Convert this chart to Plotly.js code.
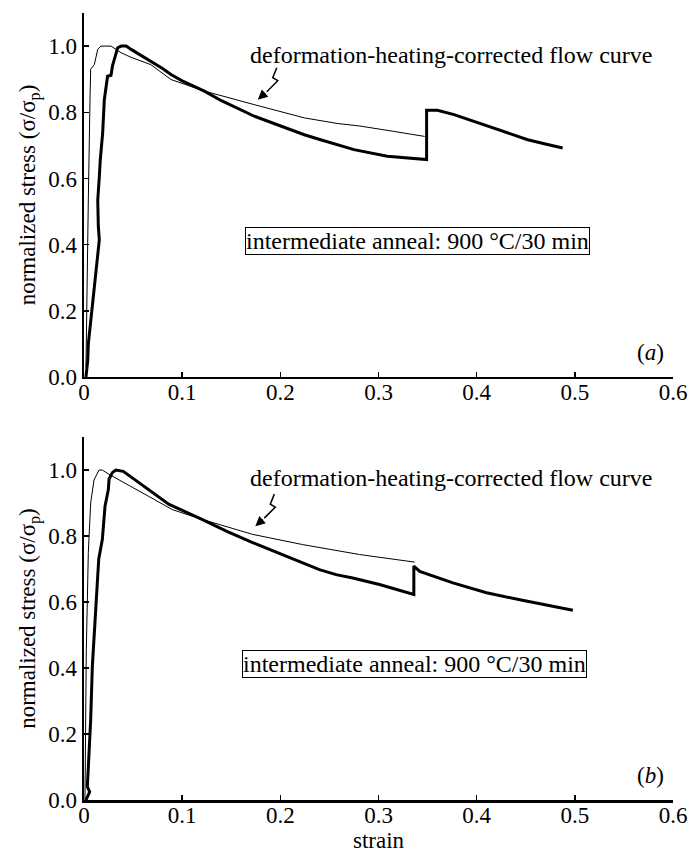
<!DOCTYPE html>
<html><head><meta charset="utf-8">
<script src="https://cdn.plot.ly/plotly-3.0.1.min.js"></script>
<style>body{margin:0;background:#fff}#plot{width:693px;height:855px}</style>
</head><body><div id="plot"></div>
<script>
// (a) measured flow curve (thick)
const aMeasStrain = [0.002,0.0038,0.0044,0.0071,0.0105,0.0132,0.0156,0.0146,0.014,0.0155,0.0166,0.019,0.0207,0.024,0.0275,0.029,0.031,0.0343,0.038,0.043,0.048,0.058,0.068,0.080,0.0886,0.100,0.1226,0.14,0.1735,0.20,0.2244,0.241,0.2584,0.275,0.309,0.330,0.349,0.349,0.360,0.377,0.395,0.411,0.430,0.452,0.470,0.4876];
const aMeasStress = [0.0,0.05,0.10,0.18,0.283,0.354,0.414,0.455,0.535,0.60,0.657,0.737,0.838,0.909,0.912,0.94,0.96,0.995,1.0,1.0,0.99,0.972,0.955,0.932,0.914,0.895,0.864,0.835,0.788,0.758,0.732,0.717,0.702,0.687,0.667,0.662,0.657,0.806,0.806,0.793,0.775,0.758,0.738,0.717,0.704,0.692];
// (a) deformation-heating-corrected flow curve (thin)
const aCorrStrain = [0.002,0.0027,0.0044,0.0061,0.0068,0.0105,0.014,0.0173,0.0275,0.0326,0.0377,0.048,0.068,0.0886,0.1226,0.1735,0.2244,0.2584,0.282,0.316,0.347];
const aCorrStress = [0.03,0.232,0.535,0.838,0.93,0.944,0.99,1.0,1.0,0.99,0.98,0.966,0.944,0.899,0.864,0.823,0.783,0.766,0.758,0.742,0.727];
// (b) measured flow curve (thick)
const bMeasStrain = [0.002,0.0058,0.0034,0.0068,0.0085,0.0112,0.0146,0.0150,0.0187,0.0214,0.0248,0.0255,0.0289,0.0323,0.040,0.050,0.066,0.0867,0.1207,0.145,0.1718,0.20,0.2228,0.2398,0.2568,0.2738,0.301,0.320,0.336,0.336,0.342,0.3758,0.41,0.444,0.471,0.485,0.498];
const bMeasStress = [0.0,0.025,0.04,0.243,0.405,0.547,0.709,0.73,0.79,0.89,0.941,0.972,0.992,1.0,0.996,0.975,0.941,0.896,0.850,0.815,0.78,0.745,0.719,0.698,0.683,0.673,0.653,0.638,0.623,0.709,0.693,0.658,0.628,0.607,0.592,0.583,0.575];
// (b) deformation-heating-corrected flow curve (thin)
const bCorrStrain = [0.001,0.0015,0.0023,0.0044,0.0068,0.0102,0.0153,0.0187,0.0255,0.066,0.09,0.1207,0.1718,0.2228,0.2568,0.2806,0.3367];
const bCorrStress = [0.0,0.2,0.446,0.75,0.90,0.97,1.0,1.0,0.987,0.92,0.88,0.850,0.805,0.774,0.757,0.744,0.721];

const xTickVals = [0,0.1,0.2,0.3,0.4,0.5,0.6];
const xTickText = ['0','0.1','0.2','0.3','0.4','0.5','0.6'];
const yTickVals = [0,0.2,0.4,0.6,0.8,1.0];
const yTickText = ['0.0','0.2','0.4','0.6','0.8','1.0'];

const FONT = 'Liberation Serif, Times New Roman, serif';
const thick = {color:'#000', width:3};
const thin = {color:'#000', width:1};

const traces = [
  {x:aMeasStrain, y:aMeasStress, mode:'lines', line:thick, xaxis:'x', yaxis:'y', hoverinfo:'skip'},
  {x:aCorrStrain, y:aCorrStress, mode:'lines', line:thin, xaxis:'x', yaxis:'y', hoverinfo:'skip'},
  {x:bMeasStrain, y:bMeasStress, mode:'lines', line:thick, xaxis:'x2', yaxis:'y2', hoverinfo:'skip'},
  {x:bCorrStrain, y:bCorrStress, mode:'lines', line:thin, xaxis:'x2', yaxis:'y2', hoverinfo:'skip'}
];

function xa(extra){return Object.assign({range:[0,0.6], tickvals:xTickVals, ticktext:xTickText, ticks:'inside', ticklen:5, tickwidth:1.5, tickcolor:'#000', showline:true, linewidth:2.5, linecolor:'#000', showgrid:false, zeroline:false, ticklabelposition:'outside', ticklabelstandoff:-7, tickfont:{family:FONT,size:23,color:'#000'}}, extra);}
function ya(extra){return Object.assign({range:[0,1.1], tickvals:yTickVals, ticktext:yTickText, ticks:'inside', ticklen:5, tickwidth:1.5, tickcolor:'#000', showline:true, linewidth:2.5, linecolor:'#000', showgrid:false, zeroline:false, tickfont:{family:FONT,size:23,color:'#000'}, title:{text:'normalized stress (σ/σ<sub>p</sub>)', font:{family:FONT,size:23,color:'#000'}, standoff:6}}, extra);}

const flowText = 'deformation-heating-corrected flow curve';
const annealText = 'intermediate anneal: 900 °C/30 min';

// squiggly arrow shaft, in pixels relative to the arrow tip (y up)
const squiggle = 'M19,32 L15,22 L20,19 L9,8';
function squig(xref, yref, xa0, ya0){
  return {type:'path', xref:xref, yref:yref, xsizemode:'pixel', ysizemode:'pixel', xanchor:xa0, yanchor:ya0, path:squiggle, line:{color:'#000', width:1.5}};
}

const layout = {
  width:693, height:855,
  margin:{l:84, r:20, t:13, b:55},
  paper_bgcolor:'#fff', plot_bgcolor:'#fff',
  showlegend:false,
  font:{family:FONT, color:'#000'},
  xaxis: xa({anchor:'y', domain:[0,1]}),
  yaxis: ya({anchor:'x', domain:[0.5375,1]}),
  xaxis2: xa({anchor:'y2', domain:[0,1], title:{text:'strain', font:{family:FONT,size:23,color:'#000'}, standoff:2}}),
  yaxis2: ya({anchor:'x2', domain:[0,0.4612]}),
  shapes:[squig('x','y',0.177,0.838), squig('x2','y2',0.1745,0.83)],
  annotations:[
    {xref:'x', yref:'y', x:0.374, y:0.972, text:flowText, showarrow:false, font:{family:FONT,size:24,color:'#000'}},
    {xref:'x', yref:'y', x:0.177, y:0.838, text:'', showarrow:true, ax:9, ay:-8, arrowhead:2, arrowsize:1.3, arrowwidth:1.5, arrowcolor:'#000'},
    {xref:'x', yref:'y', x:0.340, y:0.411, text:annealText, showarrow:false, bordercolor:'#000', borderwidth:1, borderpad:0, font:{family:FONT,size:24,color:'#000'}},
    {xref:'x', yref:'y', x:0.577, y:0.075, text:'(<i>a</i>)', showarrow:false, font:{family:FONT,size:23,color:'#000'}},
    {xref:'x2', yref:'y2', x:0.374, y:0.975, text:flowText, showarrow:false, font:{family:FONT,size:24,color:'#000'}},
    {xref:'x2', yref:'y2', x:0.1745, y:0.83, text:'', showarrow:true, ax:9, ay:-8, arrowhead:2, arrowsize:1.3, arrowwidth:1.5, arrowcolor:'#000'},
    {xref:'x2', yref:'y2', x:0.337, y:0.413, text:annealText, showarrow:false, bordercolor:'#000', borderwidth:1, borderpad:0, font:{family:FONT,size:24,color:'#000'}},
    {xref:'x2', yref:'y2', x:0.577, y:0.073, text:'(<i>b</i>)', showarrow:false, font:{family:FONT,size:23,color:'#000'}}
  ]
};
Plotly.newPlot('plot', traces, layout, {staticPlot:true, displayModeBar:false});
</script></body></html>
